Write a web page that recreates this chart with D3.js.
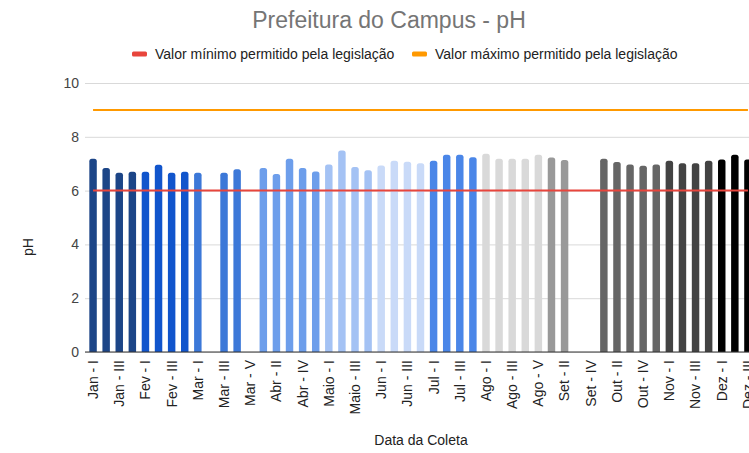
<!DOCTYPE html>
<html>
<head>
<meta charset="utf-8">
<script src="https://cdn.jsdelivr.net/npm/d3@7"></script>
<style>
  body { margin: 0; background: #fff; }
  svg { display: block; font-family: "Liberation Sans", Arial, sans-serif; }
</style>
</head>
<body>
<svg id="chart" width="749" height="453"></svg>
<script>
// data
var categories = [
  "Jan - I", "Jan - II", "Jan - III", "Jan - IV",
  "Fev - I", "Fev - II", "Fev - III", "Fev - IV",
  "Mar - I", "Mar - II", "Mar - III", "Mar - IV", "Mar - V",
  "Abr - I", "Abr - II", "Abr - III", "Abr - IV", "Abr - V",
  "Maio - I", "Maio - II", "Maio - III", "Maio - IV",
  "Jun - I", "Jun - II", "Jun - III", "Jun - IV",
  "Jul - I", "Jul - II", "Jul - III", "Jul - IV",
  "Ago - I", "Ago - II", "Ago - III", "Ago - IV", "Ago - V",
  "Set - I", "Set - II", "Set - III", "Set - IV",
  "Out - I", "Out - II", "Out - III", "Out - IV", "Out - V",
  "Nov - I", "Nov - II", "Nov - III", "Nov - IV",
  "Dez - I", "Dez - II", "Dez - III"
];
var phValues = [
  7.18, 6.84, 6.66, 6.70,
  6.70, 6.96, 6.66, 6.70,
  6.66, null, 6.66, 6.79, null,
  6.84, 6.62, 7.18, 6.84, 6.71,
  6.97, 7.49, 6.88, 6.76,
  6.93, 7.11, 7.07, 7.02,
  7.11, 7.33, 7.33, 7.24,
  7.37, 7.18, 7.18, 7.18, 7.33,
  7.23, 7.14, null, null,
  7.18, 7.06, 6.97, 6.92, 6.97,
  7.11, 7.02, 7.02, 7.11,
  7.16, 7.33, 7.16
];
var minLegal = categories.map(function() { return 6; });
var maxLegal = categories.map(function() { return 9; });
var yTicks = [0, 2, 4, 6, 8, 10];
var months = ["Jan", "Fev", "Mar", "Abr", "Maio", "Jun", "Jul", "Ago", "Set", "Out", "Nov", "Dez"];
var legendLabels = ["Valor mínimo permitido pela legislação", "Valor máximo permitido pela legislação"];

var monthColor = d3.scaleOrdinal()
    .domain(months)
    .range(["#1c4587", "#1155cc", "#3c78d8", "#6d9eeb", "#a4c2f4", "#c9daf8",
            "#4a86e8", "#d9d9d9", "#999999", "#666666", "#434343", "#000000"]);

var svg = d3.select("#chart"),
    width = +svg.attr("width"),
    height = +svg.attr("height");

var plotLeft = 85, plotTop = 83, plotBottom = 352;

var x = d3.scaleBand()
    .domain(categories)
    .range([plotLeft, 756])
    .paddingInner(0.43)
    .paddingOuter(0.33);

var y = d3.scaleLinear()
    .domain([0, 10])
    .range([plotBottom, plotTop]);

// title
svg.append("text")
    .attr("x", 389)
    .attr("y", 28)
    .attr("text-anchor", "middle")
    .attr("fill", "#757575")
    .style("font-size", "23px")
    .text("Prefeitura do Campus - pH");

// legend
var legendColors = ["#e8453c", "#ff9900"];
var legendX = [132, 412];
var legend = svg.append("g").selectAll("g")
    .data(legendLabels).enter()
    .append("g")
    .attr("transform", function(d, i) { return "translate(" + legendX[i] + ",54)"; });
legend.append("rect")
    .attr("x", 0).attr("y", -2.5)
    .attr("width", 15).attr("height", 5)
    .attr("rx", 1.5)
    .attr("fill", function(d, i) { return legendColors[i]; });
legend.append("text")
    .attr("x", 23)
    .attr("y", 0)
    .attr("dy", "0.35em")
    .attr("fill", "#222")
    .style("font-size", "14px")
    .text(function(d) { return d; });

// grid + y axis
var yAxis = svg.append("g")
    .attr("transform", "translate(" + plotLeft + ",0)")
    .call(d3.axisLeft(y).tickValues(yTicks).tickSize(-(width - plotLeft)).tickPadding(6));
yAxis.select(".domain").remove();
yAxis.selectAll(".tick line").attr("stroke", "#d9d9d9");
yAxis.selectAll(".tick text")
    .attr("fill", "#444")
    .style("font-size", "14px")
    .style("font-family", "Liberation Sans, Arial, sans-serif");

svg.append("text")
    .attr("transform", "translate(28,247) rotate(-90)")
    .attr("text-anchor", "middle")
    .attr("dy", "0.35em")
    .attr("fill", "#222")
    .style("font-size", "14px")
    .text("pH");

// bars with rounded tops
var bars = phValues
    .map(function(v, i) { return { cat: categories[i], value: v }; })
    .filter(function(d) { return d.value != null; });

function barPath(d) {
  var x0 = x(d.cat), w = x.bandwidth(), y0 = y(d.value), y1 = y(0), r = 2.5;
  return "M" + x0 + "," + y1 +
    "V" + (y0 + r) +
    "Q" + x0 + "," + y0 + " " + (x0 + r) + "," + y0 +
    "H" + (x0 + w - r) +
    "Q" + (x0 + w) + "," + y0 + " " + (x0 + w) + "," + (y0 + r) +
    "V" + y1 + "Z";
}

svg.append("g").selectAll("path")
    .data(bars).enter()
    .append("path")
    .attr("d", barPath)
    .attr("fill", function(d) { return monthColor(d.cat.split(" - ")[0]); });

// baseline
svg.append("line")
    .attr("x1", plotLeft).attr("x2", width)
    .attr("y1", y(0)).attr("y2", y(0))
    .attr("stroke", "#333");

// legislation limits
var line = d3.line()
    .x(function(d, i) { return x(categories[i]) + x.bandwidth() / 2; })
    .y(function(d) { return y(d); });

svg.append("path").datum(minLegal)
    .attr("d", line).attr("fill", "none")
    .attr("stroke", legendColors[0]).attr("stroke-width", 2);
svg.append("path").datum(maxLegal)
    .attr("d", line).attr("fill", "none")
    .attr("stroke", legendColors[1]).attr("stroke-width", 2);

// x axis labels
var xAxis = svg.append("g")
    .attr("transform", "translate(0," + plotBottom + ")")
    .call(d3.axisBottom(x)
      .tickValues(categories.filter(function(d, i) { return i % 2 === 0; }))
      .tickSize(0));
xAxis.select(".domain").remove();
xAxis.selectAll(".tick text")
    .attr("transform", "rotate(-90)")
    .attr("text-anchor", "end")
    .attr("x", -8)
    .attr("y", 0)
    .attr("dy", "0.35em")
    .attr("fill", "#222")
    .style("font-size", "14px")
    .style("font-family", "Liberation Sans, Arial, sans-serif");

svg.append("text")
    .attr("x", 421)
    .attr("y", 445)
    .attr("text-anchor", "middle")
    .attr("fill", "#222")
    .style("font-size", "14px")
    .text("Data da Coleta");
</script>
</body>
</html>
